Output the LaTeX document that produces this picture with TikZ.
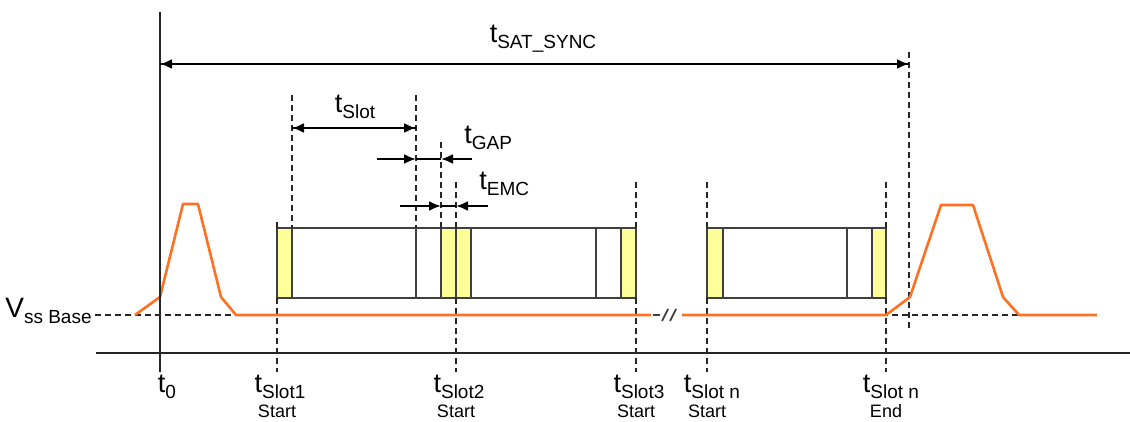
\documentclass[tikz,border=0pt]{standalone}
\usepackage{fontspec}
\setmainfont{Liberation Sans}
\usepackage{xcolor}
\usetikzlibrary{arrows.meta}
\definecolor{sigorange}{RGB}{255,112,32}
\definecolor{slotyellow}{RGB}{255,255,153}
\newcommand{\tlab}[1]{{\fontsize{13.5}{13.5}\selectfont t}\raisebox{-0.5ex}{\fontsize{9.5}{9.5}\selectfont #1}}

\begin{document}
\begin{tikzpicture}[x=0.5pt,y=-0.5pt,
  axis/.style={black!85, line width=1.3pt},
  guide/.style={black!85, line width=0.65pt, dash pattern=on 3pt off 2pt},
  signal/.style={sigorange, line width=1.3pt, line join=round},
  slotbox/.style={black!75, line width=0.7pt},
  dim/.style={black, line width=1.1pt},
  tip/.style={-{Latex[length=6pt,width=5pt]}},
  lbl/.style={inner sep=0pt, anchor=base},
  small/.style={font=\fontsize{9}{9}\selectfont}]
\useasboundingbox (0,0) rectangle (1130,422);
% time marks
\coordinate (t0) at (160,0);
\coordinate (s1) at (277,0);
\coordinate (s2) at (456,0);
\coordinate (s3) at (636,0);
\coordinate (sn) at (707,0);
\coordinate (se) at (886,0);
\coordinate (sync) at (909,0);
% base line
\draw[guide] (95,315) -- (650,315);
\draw[guide] (682,315) -- (1020,315);
% slot boxes
\filldraw[slotbox, fill=slotyellow] (277,228) rectangle (292,298);
\filldraw[slotbox, fill=slotyellow] (441,228) rectangle (471,298);
\filldraw[slotbox, fill=slotyellow] (621,228) rectangle (636,298);
\filldraw[slotbox, fill=slotyellow] (707,228) rectangle (723,298);
\filldraw[slotbox, fill=slotyellow] (872,228) rectangle (886,298);
\draw[slotbox] (277,228) rectangle (636,298);
\draw[slotbox] (707,228) rectangle (886,298);
\foreach \x in {416,456,596,847}
  \draw[slotbox] (\x,228) -- (\x,298);
% dashed guides
\draw[guide] (292,95) -- (292,228);
\draw[guide] (416,95) -- (416,228);
\draw[guide] (441,142) -- (441,228);
\draw[guide] (277,222) -- (277,228);
\foreach \x in {456,636,707,886}
  \draw[guide] (\x,182) -- (\x,228);
\foreach \x in {277,456,636,707,886}
  \draw[guide] (\x,298) -- (\x,372);
\draw[guide] (909,52) -- (909,330);
% signal
\draw[signal] (135,315) -- (160,297) -- (183,204) -- (198,204) -- (221,297) -- (236,315) -- (651,315);
\draw[signal] (682,315) -- (886,315) -- (910,297) -- (941,205) -- (973,205) -- (1003,297) -- (1019,315) -- (1097,315);
% break mark
\draw[black!75, line width=0.9pt] (653,315) -- (660,315);
\draw[black!75, line width=0.9pt] (662,321) -- (668,309);
\draw[black!75, line width=0.9pt] (670,321) -- (676,309);
% axes
\draw[axis] (160,12) -- (160,372);
\draw[axis] (96,353) -- (1130,353);
% dimension arrows
\draw[dim, tip] (t0 |- 0,64) -- (sync |- 0,64);
\draw[dim, tip] (sync |- 0,64) -- (t0 |- 0,64);
\draw[dim, tip] (292,128) -- (416,128);
\draw[dim, tip] (416,128) -- (292,128);
\draw[dim, tip] (377,159) -- (416,159);
\draw[dim] (416,159) -- (441,159);
\draw[dim, tip] (472,159) -- (441,159);
\draw[dim, tip] (400,206) -- (441,206);
\draw[dim] (441,206) -- (456,206);
\draw[dim, tip] (488,206) -- (456,206);
% labels
\node[lbl] (lsync) at (543,43) {\tlab{SAT\_SYNC}};
\node[lbl] (lslot) at (355,113) {\tlab{Slot}};
\node[lbl, anchor=base west] (lgap) at (464,144) {\tlab{GAP}};
\node[lbl, anchor=base west] (lemc) at (479,190) {\tlab{EMC}};
\node[lbl, anchor=base east] (lvss) at (92,318) {{\fontsize{14}{14}\selectfont V}\raisebox{-0.5ex}{\fontsize{9.5}{9.5}\selectfont ss Base}};
\node[lbl] (l0) at (167,393) {\tlab{0}};
\node[lbl] (l1) at (280,393) {\tlab{Slot1}};
\node[lbl, small] (l1b) at (277,417) {Start};
\node[lbl] (l2) at (459,393) {\tlab{Slot2}};
\node[lbl, small] (l2b) at (456,417) {Start};
\node[lbl] (l3) at (639,393) {\tlab{Slot3}};
\node[lbl, small] (l3b) at (636,417) {Start};
\node[lbl] (ln) at (712,393) {\tlab{Slot n}};
\node[lbl, small] (lnb) at (707,417) {Start};
\node[lbl] (le) at (891,393) {\tlab{Slot n}};
\node[lbl, small] (leb) at (886,417) {End};
\end{tikzpicture}
\end{document}
